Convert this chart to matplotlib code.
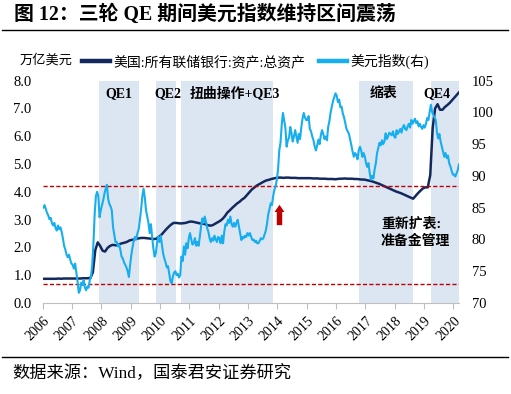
import numpy as np
import matplotlib
matplotlib.use("Agg")
import matplotlib.pyplot as plt
from matplotlib.lines import Line2D

plt.rcParams['font.family'] = ['Liberation Serif', 'Noto Sans CJK SC']
plt.rcParams['axes.unicode_minus'] = False

# Fed total assets, trillion USD, monthly from 2007-01
fed_assets = [
    0.87, 0.87, 0.87, 0.87, 0.87, 0.87, 0.88, 0.87, 0.88, 0.88, 0.88, 0.88,  # 2007
    0.88, 0.88, 0.88, 0.88, 0.89, 0.89, 0.89, 0.90, 1.10, 1.90, 2.18, 2.05,  # 2008
    1.88, 1.85, 1.98, 2.05, 2.09, 2.08, 2.07, 2.12, 2.15, 2.17, 2.20, 2.25,  # 2009
    2.27, 2.29, 2.31, 2.33, 2.34, 2.34, 2.33, 2.32, 2.31, 2.30, 2.31, 2.38,  # 2010
    2.45, 2.55, 2.65, 2.74, 2.82, 2.88, 2.88, 2.87, 2.86, 2.87, 2.88, 2.91,  # 2011
    2.93, 2.92, 2.90, 2.88, 2.86, 2.86, 2.83, 2.80, 2.78, 2.80, 2.85, 2.90,  # 2012
    2.95, 3.02, 3.12, 3.25, 3.33, 3.42, 3.50, 3.58, 3.64, 3.72, 3.78, 3.88,  # 2013
    3.98, 4.08, 4.15, 4.22, 4.27, 4.32, 4.37, 4.41, 4.43, 4.46, 4.48, 4.50,  # 2014
    4.51, 4.51, 4.50, 4.51, 4.51, 4.50, 4.50, 4.50, 4.49, 4.49, 4.49, 4.49,  # 2015
    4.49, 4.49, 4.48, 4.48, 4.48, 4.47, 4.47, 4.47, 4.46, 4.46, 4.46, 4.45,  # 2016
    4.46, 4.47, 4.47, 4.48, 4.47, 4.47, 4.47, 4.46, 4.46, 4.45, 4.44, 4.44,  # 2017
    4.42, 4.40, 4.38, 4.35, 4.32, 4.29, 4.25, 4.21, 4.17, 4.13, 4.09, 4.05,  # 2018
    4.01, 3.98, 3.95, 3.91, 3.87, 3.83, 3.79, 3.75, 3.85, 3.95, 4.04, 4.12,  # 2019
    4.16, 4.16, 4.60, 6.30, 7.00, 7.15, 6.95, 6.95, 7.05, 7.12, 7.20, 7.30,  # 2020
    7.40, 7.50, 7.60,                                                        # 2021
]

# US dollar index, twice a month from 2007-01
dxy = [
    85.0, 85.4, 84.8, 84.2, 83.8, 83.2, 83.4, 82.6, 82.2, 82.6, 81.8, 81.4,
    82.2, 81.6, 81.9, 81.2, 80.2, 79.0, 78.4, 77.6, 77.2, 77.6, 76.8, 76.2,  # 2007
    76.0, 75.4, 76.2, 74.8, 73.4, 71.6, 72.0, 73.2, 72.8, 73.6, 72.4, 72.0,
    72.6, 72.4, 73.6, 74.1, 76.0, 79.4, 84.0, 86.8, 87.5, 86.8, 83.5, 84.6,  # 2008
    85.4, 86.2, 87.2, 88.0, 88.6, 86.4, 85.6, 85.2, 84.6, 82.0, 80.8, 79.6,
    79.6, 78.9, 79.2, 78.4, 77.3, 77.0, 76.4, 76.0, 75.6, 75.0, 74.1, 76.0,  # 2009
    77.6, 78.8, 79.8, 80.4, 80.0, 81.0, 81.6, 83.1, 84.8, 86.8, 88.0, 86.6,
    84.6, 83.6, 82.6, 81.0, 82.4, 80.4, 78.6, 77.3, 77.8, 79.4, 80.4, 79.6,  # 2010
    80.6, 79.2, 77.8, 77.0, 76.4, 75.6, 75.8, 74.6, 73.4, 73.1, 74.2, 74.8,
    75.0, 74.4, 74.6, 74.0, 74.4, 77.3, 76.6, 78.9, 77.6, 79.4, 78.6, 80.2,  # 2011
    81.0, 80.0, 79.2, 79.4, 80.2, 79.0, 79.6, 79.0, 80.4, 82.0, 83.3, 82.6,
    83.6, 82.8, 81.8, 81.2, 80.2, 79.6, 80.2, 79.8, 80.6, 80.0, 79.6, 80.4,  # 2012
    80.2, 79.4, 80.6, 79.4, 81.2, 82.4, 82.2, 83.1, 82.6, 83.6, 82.4, 82.0,
    82.6, 82.0, 82.6, 83.1, 82.0, 81.0, 79.9, 80.4, 80.2, 80.6, 80.4, 81.0,  # 2013
    80.6, 81.0, 80.4, 79.9, 80.0, 79.6, 79.8, 79.4, 79.4, 79.8, 80.2, 80.0,
    80.2, 80.8, 81.4, 82.5, 84.0, 84.8, 85.7, 85.4, 86.8, 87.8, 88.4, 89.4,  # 2014
    91.0, 94.0, 95.2, 98.0, 99.9, 98.8, 97.6, 94.6, 95.6, 96.0, 97.7, 96.7,
    95.4, 96.2, 97.2, 96.2, 95.2, 96.6, 95.8, 97.6, 99.0, 99.9, 99.2, 98.8,  # 2015
    98.8, 99.4, 97.4, 97.0, 96.2, 95.6, 94.6, 94.0, 94.8, 95.7, 95.0, 96.4,
    97.2, 96.6, 95.8, 96.2, 95.6, 97.7, 98.6, 100.0, 100.9, 101.8, 102.4, 103.0,  # 2016
    102.6, 101.6, 102.0, 100.8, 100.9, 99.8, 99.2, 98.3, 97.4, 97.0, 96.6, 95.7,
    94.8, 93.8, 93.0, 93.6, 93.3, 92.6, 94.0, 94.6, 94.0, 93.0, 93.6, 93.0,  # 2017
    92.0, 91.4, 92.0, 90.4, 89.4, 90.0, 89.6, 91.0, 92.0, 93.6, 94.4, 95.2,
    94.8, 95.6, 95.0, 95.4, 96.7, 95.8, 96.2, 96.8, 96.6, 96.4, 97.0, 96.2,  # 2018
    96.0, 97.2, 96.6, 97.0, 97.4, 96.8, 97.6, 98.0, 97.4, 97.2, 97.8, 98.2,
    97.6, 98.8, 98.2, 98.6, 99.0, 98.3, 98.6, 97.8, 98.2, 97.7, 97.4, 98.0,  # 2019
    97.6, 98.2, 99.1, 98.8, 100.0, 101.2, 100.1, 99.6, 99.2, 98.8, 96.8, 95.9,
    96.6, 95.4, 94.6, 93.8, 93.0, 93.6, 92.8, 93.2, 92.0, 91.5, 90.8, 90.2,  # 2020
    90.2, 89.9, 90.4, 90.9, 91.8,                                            # 2021
]

fed_x = 2007 + (np.arange(len(fed_assets)) + 0.5) / 12
dxy_x = 2007 + (np.arange(len(dxy)) + 0.5) / 24

# policy periods (shaded)
period_start = [2008.92, 2010.85, 2011.72, 2017.78, 2020.23]
period_end = [2010.27, 2011.53, 2014.86, 2019.62, 2021.25]

range_levels = [88.45, 72.95]  # dollar index range, right axis

years = list(range(2006, 2021))

navy = '#13295e'
blue = '#17aef0'
red = '#c00000'
shade = '#dce6f2'

fig = plt.figure(figsize=(5.11, 3.94), dpi=100)
ax = fig.add_axes([0.0836, 0.231, 0.8153, 0.5645])
ax2 = ax.twinx()

for s, e in zip(period_start, period_end):
    ax.axvspan(s, e, color=shade, lw=0, zorder=0)

ax.plot(fed_x, fed_assets, color=navy, lw=1.8, zorder=3)

for lv in range_levels:
    ax2.axhline(lv, color=red, lw=1.0, ls=(0, (3, 1.6)), zorder=2)
ax2.plot(dxy_x, dxy, color=blue, lw=1.5, zorder=3)

ax2.annotate('', xy=(2015.07, 85.45), xytext=(2015.07, 82.25),
             arrowprops=dict(arrowstyle='simple,head_length=0.4,head_width=0.55,tail_width=0.3',
                             color=red, lw=0, shrinkA=0, shrinkB=0, mutation_scale=13))

ax.set_xlim(2007.0, 2021.2)
ax.set_ylim(0, 8)
ax2.set_ylim(70, 105)

ax.set_yticks(np.arange(0, 8.01, 1.0))
ax.set_yticklabels(['{:.1f}'.format(v) for v in np.arange(0, 8.01, 1.0)])
ax2.set_yticks(np.arange(70, 106, 5))

# each year label sits at the year end
ax.set_xticks([y + 1 for y in years])
ax.set_xticklabels([str(y) for y in years], rotation=45, ha='right', rotation_mode='anchor')

for a in (ax, ax2):
    for side in ('top', 'left', 'right'):
        a.spines[side].set_visible(False)
ax2.spines['bottom'].set_visible(False)
ax.spines['bottom'].set_color('#bfbfbf')

ax.tick_params(axis='y', length=0, pad=8, labelsize=10.5)
ax2.tick_params(axis='y', length=0, pad=9, labelsize=10.5)
ax.tick_params(axis='x', length=4, color='#bfbfbf', pad=4, labelsize=10)

# period labels
ax.text(2009.6, 7.54, 'QE1', ha='center', va='center', fontsize=10, fontweight='bold')
ax.text(2011.25, 7.54, 'QE2', ha='center', va='center', fontsize=10, fontweight='bold')
ax.text(2013.56, 7.54, '扭曲操作+QE3', ha='center', va='center', fontsize=10, fontweight='bold')
ax.text(2018.63, 7.54, '缩表', ha='center', va='center', fontsize=10, fontweight='bold')
ax.text(2020.43, 7.54, 'QE4', ha='center', va='center', fontsize=10, fontweight='bold')
ax.text(2018.53, 2.84, '重新扩表:', ha='left', va='center', fontsize=10, fontweight='bold')
ax.text(2018.53, 2.20, '准备金管理', ha='left', va='center', fontsize=10, fontweight='bold')

# legend row
fig.text(0.039, 0.846, '万亿美元', fontsize=9.5, va='center')
handles = [Line2D([], [], color=navy, lw=3.2), Line2D([], [], color=blue, lw=3.2)]
fig.legend(handles, ['美国:所有联储银行:资产:总资产', '美元指数(右)'],
           loc='center left', bbox_to_anchor=(0.16, 0.843), ncol=2, frameon=False,
           fontsize=10, handlelength=2.0, handletextpad=0.25, columnspacing=1.0,
           borderpad=0, borderaxespad=0)

# title, separators, source
fig.text(0.027, 0.962, '图 12：三轮 QE 期间美元指数维持区间震荡', fontsize=14.3,
         fontweight='bold', va='center')
fig.add_artist(Line2D([0.004, 0.994], [0.925, 0.925], color='black', lw=1.0))
fig.add_artist(Line2D([0.004, 0.994], [0.0947, 0.0947], color='black', lw=1.0))
fig.text(0.025, 0.051, '数据来源：Wind，国泰君安证券研究', fontsize=12.4, va='center')

fig.savefig('out.png', dpi=100)
